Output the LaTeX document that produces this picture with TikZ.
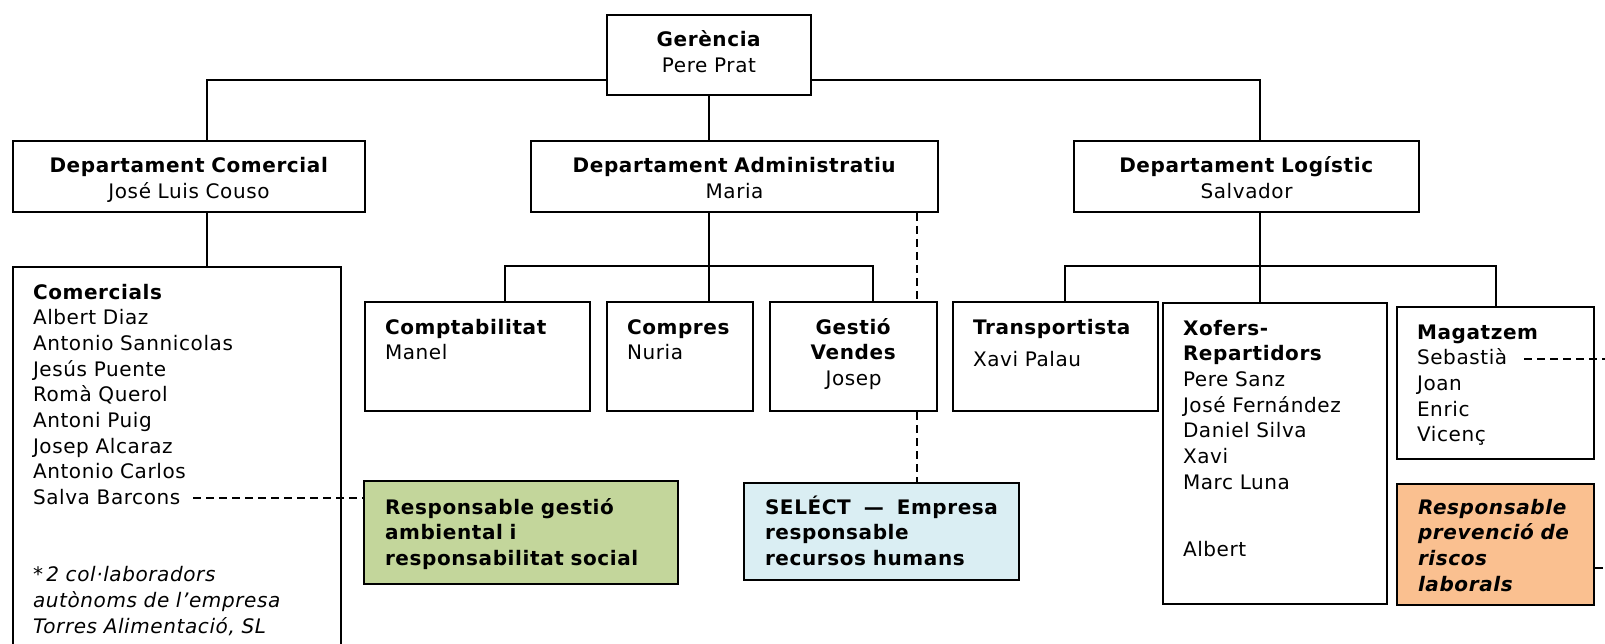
\documentclass[tikz,border=0pt]{standalone}
\usepackage{fontspec}
\setmainfont{DejaVu Sans}[LetterSpace=3]
\definecolor{greenfill}{HTML}{C3D69B}
\definecolor{bluefill}{HTML}{DAEEF3}
\definecolor{orangefill}{HTML}{FAC090}
\newcommand{\orgfont}{\fontsize{20}{25.7}\selectfont}

\begin{document}
\begin{tikzpicture}[
  x=1pt, y=-1pt,
  box/.style={draw, line width=2pt, anchor=north west, inner ysep=0pt,
              text height=32pt, font=\orgfont},
  head/.style={box, align=center, inner xsep=4pt},
  unit/.style={box, align=left, inner xsep=20pt},
  note/.style={box, align=left, inner xsep=21pt, font=\orgfont\bfseries},
  link/.style={line width=2pt},
  side/.style={line width=1.7pt, dash pattern=on 8pt off 5pt},
]
\useasboundingbox[fill=white] (0,0) rectangle (1605,644);

\node[head, text width=196pt, text depth=48pt] (ger) at (606,14) {\textbf{Gerència}\\ Pere Prat};
\node[head, text width=344pt, text depth=39pt] (com) at (12,140) {\textbf{Departament Comercial}\\ José Luis Couso};
\node[head, text width=399pt, text depth=39pt] (adm) at (530,140) {\textbf{Departament Administratiu}\\ Maria};
\node[head, text width=337pt, text depth=39pt] (log) at (1073,140) {\textbf{Departament Logístic}\\ Salvador};

\node[unit, text width=288pt, text depth=400pt] (comls) at (12,266) {\textbf{Comercials}\\ Albert Diaz\\ Antonio Sannicolas\\ Jesús Puente\\ Romà Querol\\ Antoni Puig\\ Josep Alcaraz\\ Antonio Carlos\\ Salva Barcons\\[51.4pt] \textit{*\,2 col·laboradors}\\ \textit{autònoms de l’empresa}\\ \textit{Torres Alimentació, SL}};

\node[unit, text width=185pt, text depth=77pt] (compt) at (364,301) {\textbf{Comptabilitat}\\ Manel};
\node[unit, text width=106pt, text depth=77pt] (compr) at (606,301) {\textbf{Compres}\\ Nuria};
\node[head, text width=159pt, text depth=77pt] (gest) at (769,301) {\textbf{Gestió}\\ \textbf{Vendes}\\ Josep};
\node[unit, text width=165pt, text depth=77pt] (trans) at (952,301) {\textbf{Transportista}\\[7pt] Xavi Palau};
\node[unit, text width=184pt, text depth=269pt] (xof) at (1162,302) {\textbf{Xofers-}\\ \textbf{Repartidors}\\ Pere Sanz\\ José Fernández\\ Daniel Silva\\ Xavi\\ Marc Luna\\[42pt] Albert};
\node[unit, text width=157pt, text depth=120pt] (mag) at (1396,306) {\textbf{Magatzem}\\ Sebastià\\ Joan\\ Enric\\ Vicenç};

\node[note, fill=greenfill, text width=272pt, text height=33pt, text depth=70pt] (green) at (363,480) {Responsable gestió\\ ambiental i\\ responsabilitat social};
\node[note, fill=bluefill, text width=233pt, text height=31pt, text depth=66pt] (sel) at (743,482) {\makebox[\linewidth][s]{SELÉCT\hfill—\hfill Empresa}\\ responsable\\ recursos humans};
\node[note, fill=orangefill, font=\orgfont\bfseries\itshape, text width=155pt, text height=30pt, text depth=91pt] (orng) at (1396,483) {Responsable\\ prevenció~de\\ riscos\\ laborals};

\coordinate (salva) at (193,498);
\coordinate (sebas) at (1524,359);
\coordinate (edgeA) at (1612,359);
\coordinate (edgeB) at (1612,568);
\coordinate (comx) at ([xshift=18pt]com.south);
\coordinate (logx) at ([xshift=13.5pt]log.south);
\coordinate (gx) at ([xshift=-21pt]gest.north east);
\coordinate (gy) at ([xshift=-21pt]gest.south east);

\draw[link] ([yshift=-25pt]ger.west) -| (comx |- com.north);
\draw[link] ([yshift=-25pt]ger.east) -| (logx |- log.north);
\draw[link] (ger.south) -- (ger.south |- adm.north);
\draw[link] (comx) -- (comx |- comls.north);
\draw[link] (ger.south |- adm.south) -- (ger.south |- compr.north);
\draw[link] ([xshift=27.5pt]compt.north) |- (ger.south |- comls.north) -| ([xshift=19.5pt]gest.north);
\draw[link] (logx) -- (logx |- xof.north);
\draw[link] ([xshift=9.5pt]trans.north) |- (logx |- comls.north) -| (mag.north);

\draw[side] (gx |- adm.south) -- (gx);
\draw[side] (gy) -- (gy |- sel.north);
\draw[side] (salva) -- (salva -| green.west);
\draw[side] (sebas) -- (edgeA);
\draw[side] (edgeB -| orng.east) -- (edgeB);
\end{tikzpicture}
\end{document}
